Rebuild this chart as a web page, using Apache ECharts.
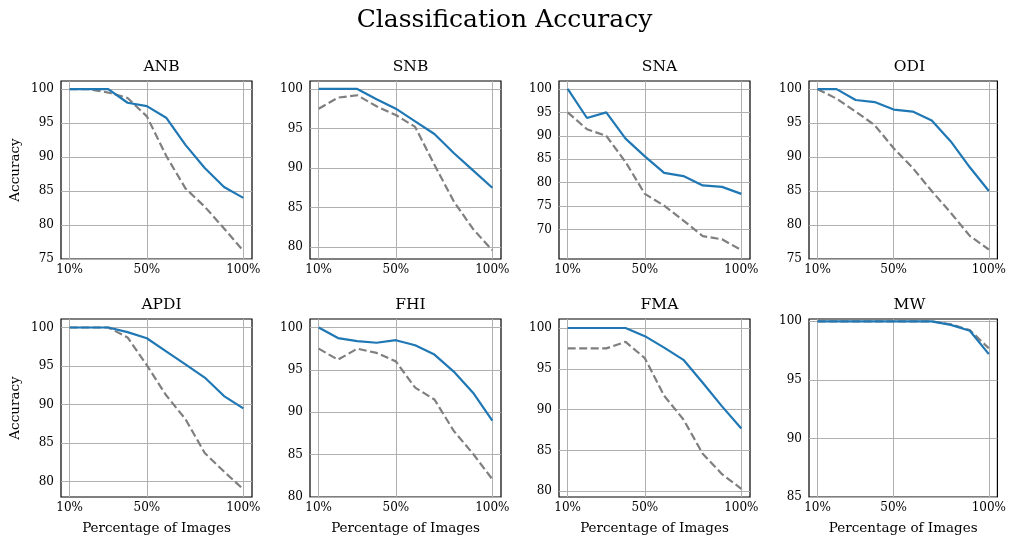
<!DOCTYPE html>
<html>
<head>
<meta charset="utf-8">
<script src="https://cdn.jsdelivr.net/npm/echarts@6/dist/echarts.min.js"></script>
<style>html,body{margin:0;padding:0;background:#fff;}#c{width:1009px;height:537px;}</style>
</head>
<body>
<div id="c"></div>
<script>
const mainTitle = 'Classification Accuracy';
const panelNames = ['ANB', 'SNB', 'SNA', 'ODI', 'APDI', 'FHI', 'FMA', 'MW'];
const xValues = [10, 20, 30, 40, 50, 60, 70, 80, 90, 100];
const xTicks = [10, 50, 100];

const solidANB = [100, 100, 100, 98.0, 97.5, 95.8, 91.8, 88.4, 85.6, 84.0];
const dashANB  = [100, 100, 99.5, 98.7, 96.0, 90.2, 85.4, 82.7, 79.5, 76.2];
const solidSNB = [100, 100, 100, 98.7, 97.5, 95.9, 94.3, 91.9, 89.7, 87.5];
const dashSNB  = [97.5, 98.9, 99.2, 97.8, 96.7, 95.2, 90.4, 85.8, 82.3, 79.6];
const solidSNA = [100, 93.8, 95.0, 89.4, 85.6, 82.1, 81.4, 79.4, 79.1, 77.6];
const dashSNA  = [95.0, 91.4, 90.0, 84.4, 77.6, 75.1, 71.9, 68.6, 67.9, 65.6];
const solidODI = [100, 100, 98.4, 98.1, 97.0, 96.7, 95.4, 92.3, 88.5, 85.0];
const dashODI  = [100, 98.6, 96.7, 94.7, 91.3, 88.4, 85.0, 81.8, 78.4, 76.4];
const solidAPDI = [100, 100, 100, 99.4, 98.6, 96.9, 95.2, 93.5, 91.1, 89.5];
const dashAPDI  = [100, 100, 100, 98.7, 95.1, 91.2, 88.1, 83.7, 81.3, 79.0];
const solidFHI = [100, 98.75, 98.4, 98.2, 98.5, 97.9, 96.8, 94.8, 92.3, 89.0];
const dashFHI  = [97.5, 96.2, 97.5, 97.0, 96.0, 92.9, 91.5, 87.8, 85.1, 82.1];
const solidFMA = [100, 100, 100, 100, 99.0, 97.6, 96.1, 93.3, 90.4, 87.7];
const dashFMA  = [97.5, 97.5, 97.5, 98.3, 96.3, 91.7, 88.8, 84.6, 82.1, 80.3];
const solidMW = [100, 100, 100, 100, 100, 100, 100, 99.7, 99.2, 97.2];
const dashMW  = [100, 100, 100, 100, 100, 100, 100, 99.75, 99.25, 97.7];

const solidSeries = [solidANB, solidSNB, solidSNA, solidODI, solidAPDI, solidFHI, solidFMA, solidMW];
const dashSeries = [dashANB, dashSNB, dashSNA, dashODI, dashAPDI, dashFHI, dashFMA, dashMW];

const yTicksANB = [75, 80, 85, 90, 95, 100];
const yTicksSNB = [80, 85, 90, 95, 100];
const yTicksSNA = [70, 75, 80, 85, 90, 95, 100];
const yTicksODI = [75, 80, 85, 90, 95, 100];
const yTicksAPDI = [80, 85, 90, 95, 100];
const yTicksFHI = [80, 85, 90, 95, 100];
const yTicksFMA = [80, 85, 90, 95, 100];
const yTicksMW = [85, 90, 95, 100];
const yTicks = [yTicksANB, yTicksSNB, yTicksSNA, yTicksODI, yTicksAPDI, yTicksFHI, yTicksFMA, yTicksMW];

// axis extents (view limits)
const yMin = [75.0, 78.5, 63.7, 75.0, 78.0, 80.0, 79.3, 85.0];
const yMax = [101.2, 101.0, 101.7, 101.2, 101.1, 101.0, 101.1, 100.2];
const xMin = 5.5, xMax = 104.5;

const FONT = 'DejaVu Serif';
const colLeft = [61, 310, 559, 809];
const rowTop = [81, 319];
const gw = 191, gh = 178;

const grids = [], xAxes = [], yAxes = [], series = [], titles = [];
titles.push({text: mainTitle, left: 'center', top: 3,
  textStyle: {fontFamily: FONT, fontSize: 25, fontWeight: 'normal', color: '#000'}});

for (let i = 0; i < 8; i++) {
  const r = Math.floor(i / 4), c = i % 4;
  grids.push({left: colLeft[c], top: rowTop[r], width: gw, height: gh,
    show: true, borderColor: '#000', borderWidth: 1.2, backgroundColor: 'transparent', containLabel: false});
  titles.push({text: panelNames[i], left: colLeft[c] + gw / 2, top: rowTop[r] - 27, textAlign: 'center',
    textStyle: {fontFamily: FONT, fontSize: 15.5, fontWeight: 'normal', color: '#000'}});
  xAxes.push({type: 'value', gridIndex: i, min: xMin, max: xMax,
    name: r === 1 ? 'Percentage of Images' : '', nameLocation: 'middle', nameGap: 24,
    nameTextStyle: {fontFamily: FONT, fontSize: 13.5, color: '#000'},
    axisLine: {show: false},
    axisTick: {show: false, customValues: xTicks},
    axisLabel: {customValues: xTicks, formatter: v => v + '%', fontFamily: FONT, fontSize: 12, color: '#000', margin: 5},
    splitLine: {show: true, lineStyle: {color: '#b0b0b0', width: 1}}
  });
  yAxes.push({type: 'value', gridIndex: i, min: yMin[i], max: yMax[i],
    name: c === 0 ? 'Accuracy' : '', nameLocation: 'middle', nameGap: 39, nameRotate: 90,
    nameTextStyle: {fontFamily: FONT, fontSize: 13.5, color: '#000'},
    axisLine: {show: false},
    axisTick: {show: false, customValues: yTicks[i]},
    axisLabel: {customValues: yTicks[i], fontFamily: FONT, fontSize: 12, color: '#000', margin: 7},
    splitLine: {show: true, lineStyle: {color: '#b0b0b0', width: 1}}
  });
  series.push({type: 'line', xAxisIndex: i, yAxisIndex: i, symbol: 'none', animation: false,
    data: xValues.map((x, k) => [x, dashSeries[i][k]]),
    lineStyle: {color: '#7f7f7f', width: 2.2, type: [8, 3.5]}, z: 2});
  series.push({type: 'line', xAxisIndex: i, yAxisIndex: i, symbol: 'none', animation: false,
    data: xValues.map((x, k) => [x, solidSeries[i][k]]),
    lineStyle: {color: '#1f77b4', width: 2.2}, z: 3});
}

const chart = echarts.init(document.getElementById('c'), null, {renderer: 'canvas'});
chart.setOption({backgroundColor: '#fff', animation: false, title: titles, grid: grids, xAxis: xAxes, yAxis: yAxes, series: series});
</script>
</body>
</html>
